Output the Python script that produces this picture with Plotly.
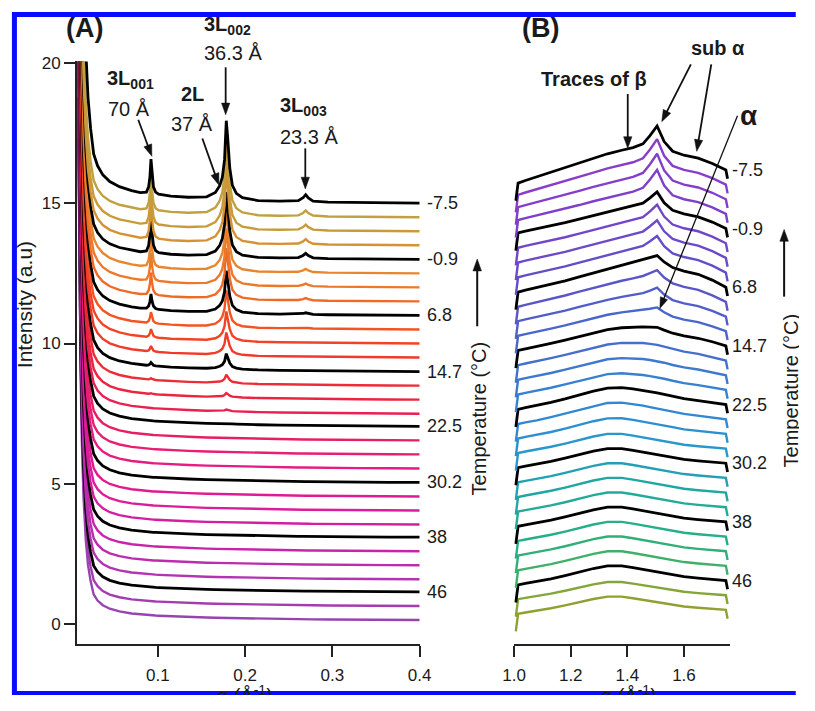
import math
import plotly.graph_objects as go

# the page body keeps an 8 px margin all round, so the figure is inset by that much
PAGE_W, PAGE_H = 815, 711
OX, OY = 8, 8
FW, FH = PAGE_W - 2 * OX, PAGE_H - 2 * OY
FONT = "Liberation Sans, Arial, sans-serif"
INK = "#1a1a1a"

# ---------------- (A) small-angle scattering, 0.0075 - 0.4 1/A ----------------
QA = [0.0090, 0.0100, 0.0115, 0.0130, 0.0150, 0.0175, 0.0200, 0.0230, 0.0265, 0.0310,
      0.0370, 0.0450, 0.0560, 0.0700, 0.0800, 0.0870, 0.0895, 0.0910, 0.0922, 0.0934,
      0.0950, 0.0975, 0.1010, 0.1150, 0.1350, 0.1560, 0.1660, 0.1710, 0.1740, 0.1765,
      0.1785, 0.1800, 0.1825, 0.1855, 0.1900, 0.1970, 0.2150, 0.2400, 0.2610, 0.2665,
      0.2695, 0.2725, 0.2780, 0.2950, 0.3300, 0.3650, 0.4000]

# low-q scattering above each trace's baseline
TAIL_A = [23.5, 17.7, 12.1, 8.7, 5.9, 3.9, 2.7, 1.9, 1.25, 0.95,
          0.72, 0.55, 0.42, 0.32, 0.27, 0.245, 0.235, 0.23, 0.228, 0.225,
          0.222, 0.218, 0.21, 0.18, 0.15, 0.12, 0.11, 0.105, 0.1, 0.1,
          0.098, 0.096, 0.094, 0.092, 0.09, 0.08, 0.065, 0.05, 0.04, 0.038,
          0.036, 0.035, 0.032, 0.025, 0.015, 0.007, 0.0]

# normalised reflection profiles on QA
PEAK_001 = [0] * 15 + [0.04, 0.2, 0.5, 1.0, 0.55, 0.22, 0.07, 0.02] + [0] * 24
PEAK_002 = [0] * 25 + [0.02, 0.08, 0.17, 0.28, 0.5, 1.0, 0.8, 0.4, 0.18, 0.08, 0.03] + [0] * 11
PEAK_003 = [0] * 38 + [0.12, 0.55, 1.0, 0.55, 0.12] + [0] * 4

# one entry per trace, coldest (top) to warmest (bottom)
OFFSET_A = [15.0, 14.5, 14.0, 13.5, 13.0, 12.5, 12.0, 11.5, 11.0, 10.5, 10.0, 9.5, 9.0, 8.5,
            8.0, 7.5, 7.05, 6.55, 6.05, 5.55, 5.05, 4.55, 4.05, 3.55, 3.1, 2.6, 2.1, 1.6,
            1.15, 0.65, 0.15]
TAIL_AMP_A = [1.4, 1.05, 1.0, 1.0, 1.0, 1.0, 1.0, 0.98, 0.96, 0.95, 0.94, 0.92, 0.9, 0.9,
              0.88, 0.87, 0.86, 0.85, 0.84, 0.83, 0.82, 0.81, 0.8, 0.8, 0.79, 0.78, 0.77,
              0.76, 0.75, 0.74, 0.73]
AMP_001 = [1.25, 1.3, 1.35, 1.35, 1.3, 1.2, 1.0, 0.8, 0.55, 0.4, 0.3, 0.2, 0.12, 0.06,
           0.03] + [0] * 16
AMP_002 = [2.8, 2.8, 2.7, 2.6, 2.3, 2.2, 2.0, 1.8, 1.5, 1.3, 1.05, 0.8, 0.55, 0.3, 0.15,
           0.06, 0.03] + [0] * 14
AMP_003 = [0.25, 0.2, 0.2, 0.18, 0.18, 0.12, 0.1, 0.08, 0.06, 0.03] + [0] * 21

COLORS_A = ["#000000", "#c0a040", "#c89a3a", "#d49234",
            "#000000", "#e88630", "#ee782a", "#f06a26",
            "#000000", "#f25424", "#f24424", "#f03a2c",
            "#000000", "#ee2c36", "#ec2440", "#ea2050",
            "#000000", "#e81e62", "#e81e72", "#e61c82",
            "#000000", "#e01a90", "#dc1c9a", "#d41ea2",
            "#000000", "#c824aa", "#bc2caf", "#b234b0",
            "#000000", "#a43cb0", "#9844b0"]

# ---------------- (B) wide-angle scattering, 1.0 - 1.75 1/A ----------------
QB = [1.006, 1.014, 1.040, 1.080, 1.130, 1.180, 1.230, 1.280, 1.330, 1.380, 1.420,
      1.455, 1.480, 1.505, 1.530, 1.560, 1.600, 1.650, 1.700, 1.748, 1.754]
HUMP_COLD = [-0.15, -0.15, -0.09, -0.01, 0.1, 0.2, 0.32, 0.44, 0.55, 0.67, 0.76,
             0.82, 0.82, 0.8, 0.72, 0.6, 0.5, 0.4, 0.22, 0.0, 0.0]
HUMP_WARM = [-0.15, -0.15, -0.1, -0.04, 0.06, 0.17, 0.29, 0.41, 0.5, 0.5, 0.44,
             0.38, 0.33, 0.29, 0.25, 0.2, 0.13, 0.08, 0.04, 0.0, 0.0]
TILT_B = [-1.0, -1.0, -0.9, -0.75, -0.6, -0.45, -0.3, -0.15, 0, 0, 0,
          0, 0, 0, 0, 0, 0, 0, 0, 0, 0]
EDGE_B = [-0.6] + [0] * 19 + [-0.3]
PEAK_SUBA = [0] * 11 + [0.1, 0.5, 1.0, 0.35, 0.05] + [0] * 5

OFFSET_B = [15.2, 14.7, 14.2, 13.7, 13.2, 12.7, 12.2, 11.7, 11.2, 10.7, 10.2, 9.7, 9.2,
            8.7, 8.2, 7.7, 7.2, 6.7, 6.2, 5.7, 5.2, 4.7, 4.2, 3.7, 3.2, 2.7, 2.2, 1.7,
            1.2, 0.7, 0.2]
W_COLD = [1.0, 1.0, 1.0, 1.0, 1.0, 1.02, 1.04, 1.06, 1.1, 1.0, 0.85, 0.7, 0.55, 0.45,
          0.35, 0.25, 0.15, 0.1, 0.05] + [0] * 12
W_WARM = [0] * 9 + [0.1, 0.2, 0.35, 0.5, 0.6, 0.7, 0.8, 0.95, 1.0, 1.0, 1.0, 1.0, 1.0,
                    1.0, 1.0, 1.0, 1.0, 1.0, 1.0, 1.0, 0.9, 0.9]
W_TILT = [0.3, 0.2, 0.12, 0.06] + [0] * 27
AMP_SUBA = [0.7, 0.75, 0.75, 0.7, 0.45, 0.5, 0.45, 0.4, 0.2, 0.25, 0.25, 0.15, 0.05] + [0] * 18

COLORS_B = ["#000000", "#8a3ec8", "#843fc8", "#7e40c8",
            "#000000", "#7246c8", "#6c4ac8", "#644ec8",
            "#000000", "#5a56c8", "#525ec8", "#4a66ca",
            "#000000", "#4470cc", "#3e78d0", "#3880d0",
            "#000000", "#3288d0", "#2c90d0", "#2898cc",
            "#000000", "#22a0b4", "#22a6a4", "#24aa98",
            "#000000", "#26ae88", "#30b078", "#40b068",
            "#000000", "#84a638", "#92a032"]

LABELLED = [0, 4, 8, 12, 16, 20, 24, 28]
TEMP_LABELS = ["-7.5", "-0.9", "6.8", "14.7", "22.5", "30.2", "38", "46"]


def px(x):
    """page pixel column -> paper fraction"""
    return (x - OX) / FW


def py(y):
    """page pixel row -> paper fraction"""
    return 1 - (y - OY) / FH


fig = go.Figure()

curves_a = []
for k in range(len(OFFSET_A)):
    curves_a.append([OFFSET_A[k] + TAIL_AMP_A[k] * t + AMP_001[k] * a + AMP_002[k] * b
                     + AMP_003[k] * c
                     for t, a, b, c in zip(TAIL_A, PEAK_001, PEAK_002, PEAK_003)])

curves_b = []
for k in range(len(OFFSET_B)):
    curves_b.append([OFFSET_B[k] + W_COLD[k] * hc + W_WARM[k] * hw + W_TILT[k] * tl
                     + AMP_SUBA[k] * p + e
                     for hc, hw, tl, p, e in zip(HUMP_COLD, HUMP_WARM, TILT_B,
                                                 PEAK_SUBA, EDGE_B)])

for k in reversed(range(len(curves_a))):
    black = COLORS_A[k] == "#000000"
    fig.add_trace(go.Scatter(x=QA, y=curves_a[k], mode="lines", xaxis="x", yaxis="y",
                             line=dict(color=COLORS_A[k], width=2.8 if black else 2.4),
                             showlegend=False, hoverinfo="skip"))

for k in reversed(range(len(curves_b))):
    black = COLORS_B[k] == "#000000"
    fig.add_trace(go.Scatter(x=QB, y=curves_b[k], mode="lines", xaxis="x2", yaxis="y2",
                             line=dict(color=COLORS_B[k], width=2.8 if black else 2.4),
                             showlegend=False, hoverinfo="skip"))

ann = []

# temperature labels at the right end of the black traces
for k, lab in zip(LABELLED, TEMP_LABELS):
    ann.append(dict(x=QA[-1], y=curves_a[k][-1], xref="x", yref="y", text=lab,
                    showarrow=False, xanchor="left", yanchor="middle", xshift=5,
                    font=dict(size=18, color=INK, family=FONT)))
    ann.append(dict(x=QB[-2], y=curves_b[k][-2], xref="x2", yref="y2", text=lab,
                    showarrow=False, xanchor="left", yanchor="middle", xshift=4,
                    font=dict(size=18, color=INK, family=FONT)))


def text(x, y, s, size=20, angle=0, bold=False):
    return dict(x=px(x), y=py(y), xref="paper", yref="paper",
                text=f"<b>{s}</b>" if bold else s, showarrow=False,
                xanchor="center", yanchor="middle", textangle=angle,
                font=dict(size=size, color=INK, family=FONT))


ann += [
    text(83, 28, "(A)", 27, bold=True),
    text(552, 28, "(B)", 27, bold=True),
    text(130, 80, "3L<sub>001</sub>", 20, bold=True),
    text(128, 110, "70 Å", 20),
    text(194, 95, "2L", 20, bold=True),
    text(193, 125, "37 Å", 20),
    text(230, 26, "3L<sub>002</sub>", 20, bold=True),
    text(236, 54, "36.3 Å", 20),
    text(308, 108, "3L<sub>003</sub>", 20, bold=True),
    text(314, 139, "23.3 Å", 20),
    text(607, 80, "Traces of β", 20, bold=True),
    text(735, 48, "sub α", 20, bold=True),
    text(766, 117, "α", 28, bold=True),
    text(489, 423, "Temperature (°C)", 20, angle=-90),
    text(810, 395, "Temperature (°C)", 20, angle=-90),
    text(21, 308, "Intensity (a.u)", 21, angle=-90),
    text(248, 702, "q (Å<sup>-1</sup>)", 20),
    text(643, 702, "q (Å<sup>-1</sup>)", 20),
]

# pointer arrows: (tail x, tail y, tip x, tip y, line width) in page pixels
ARROWS = [
    (138, 121, 152, 158, 1.8),   # 3L001
    (204, 140, 221, 187, 1.8),   # 2L
    (228, 68, 228, 116, 1.8),    # 3L002
    (310, 150, 310, 191, 1.8),   # 3L003
    (642, 95, 642, 150, 1.8),    # traces of beta
    (707, 65, 677, 123, 1.8),    # sub alpha
    (728, 65, 713, 153, 1.8),    # sub alpha
    (755, 117, 675, 312, 1.3),   # alpha
    (487, 330, 487, 262, 2.0),   # temperature, centre
    (803, 300, 803, 232, 2.0),   # temperature, right edge
]

shapes = []
for x0, y0, x1, y1, lw in ARROWS:
    length = math.hypot(x1 - x0, y1 - y0)
    ux, uy = (x1 - x0) / length, (y1 - y0) / length
    head, half = 10 + lw, 3.2 + lw * 0.6
    bx, by = x1 - head * ux, y1 - head * uy
    shapes.append(dict(type="line", xref="paper", yref="paper",
                       x0=px(x0), y0=py(y0), x1=px(bx + 2 * ux), y1=py(by + 2 * uy),
                       line=dict(color="#111111", width=lw), layer="above"))
    pts = [(x1, y1), (bx - half * uy, by + half * ux), (bx + half * uy, by - half * ux)]
    path = "M" + " L".join(f"{px(a):.5f},{py(b):.5f}" for a, b in pts) + " Z"
    shapes.append(dict(type="path", xref="paper", yref="paper", path=path,
                       fillcolor="#111111", line=dict(color="#111111", width=0.5),
                       layer="above"))

# page frame: left, top and bottom edges (the right edge runs off the page)
FRAME = "#0a0aff"
shapes += [
    dict(type="line", xref="paper", yref="paper", x0=px(10.5), x1=px(10.5),
         y0=py(12), y1=py(703), line=dict(color=FRAME, width=5), layer="above"),
    dict(type="line", xref="paper", yref="paper", x0=px(8), x1=px(815),
         y0=py(14.5), y1=py(14.5), line=dict(color=FRAME, width=5), layer="above"),
    dict(type="line", xref="paper", yref="paper", x0=px(8), x1=px(815),
         y0=py(701), y1=py(701), line=dict(color=FRAME, width=4), layer="above"),
]

axis_common = dict(showgrid=False, zeroline=False, showline=True, linecolor="#222222",
                   linewidth=2, ticks="outside", ticklen=11, tickwidth=2,
                   tickcolor="#222222", tickfont=dict(size=17, color=INK, family=FONT))
ydom = [py(651), py(62)]

fig.update_layout(
    width=FW, height=FH, autosize=False,
    margin=dict(l=0, r=0, t=0, b=0),
    paper_bgcolor="white", plot_bgcolor="white",
    xaxis=dict(domain=[px(75), px(428)], range=[0.0075, 0.4004], anchor="y",
               tickvals=[0.1, 0.2, 0.3, 0.4], ticktext=["0.1", "0.2", "0.3", "0.4"],
               ticklabelstandoff=4, **axis_common),
    yaxis=dict(domain=ydom, range=[-0.69, 20.05], anchor="x",
               tickvals=[0, 5, 10, 15, 20], ticktext=["0", "5", "10", "15", "20"],
               **axis_common),
    xaxis2=dict(domain=[px(525), px(747)], range=[1.0, 1.7616], anchor="y2",
                tickvals=[1.0, 1.2, 1.4, 1.6], ticktext=["1.0", "1.2", "1.4", "1.6"],
                ticklabelstandoff=4, **axis_common),
    yaxis2=dict(domain=ydom, range=[-0.95, 18.9], anchor="x2", visible=False),
    annotations=ann,
    shapes=shapes,
)

fig.write_html("out.html")
